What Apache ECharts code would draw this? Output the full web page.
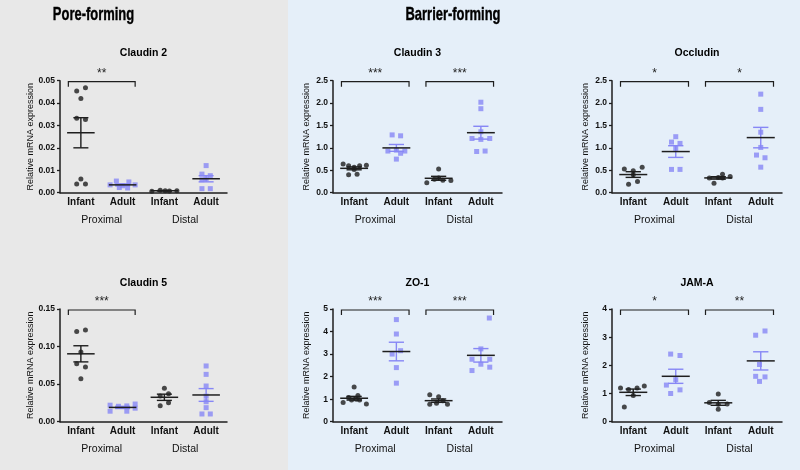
<!DOCTYPE html>
<html lang="en">
<head>
<meta charset="UTF-8">
<title>Tight junction mRNA expression</title>
<script src="https://cdn.jsdelivr.net/npm/echarts@6/dist/echarts.min.js"></script>
<style>
  html, body { margin: 0; padding: 0; }
  #main { width: 800px; height: 470px; }
</style>
</head>
<body>
<div id="main"></div>
<script>
// categories on every panel
var groups = ['Infant', 'Adult', 'Infant', 'Adult'];
var regions = ['Proximal', 'Distal'];
var titles = ['Claudin 2', 'Claudin 3', 'Occludin', 'Claudin 5', 'ZO-1', 'JAM-A'];
var yMax = [0.05, 2.5, 2.5, 0.15, 5, 4];
var yStep = [0.01, 0.5, 0.5, 0.05, 1, 1];
var yDecimals = [2, 1, 1, 2, 0, 0];
// significance marks: [proximal, distal]
var stars = [['**', null], ['***', '***'], ['*', '*'], ['***', null], ['***', '***'], ['*', '**']];

// points: [offset from category centre, value]
var c2InfProx = [[-0.1, 0.0454], [0.11, 0.0469], [0, 0.042], [-0.1, 0.0332], [0.11, 0.0327], [0, 0.0061], [-0.1, 0.0039], [0.11, 0.0039]];
var c2AduProx = [[-0.15, 0.0052], [0.15, 0.0048], [-0.3, 0.0035], [0.3, 0.0035], [0, 0.0031], [0.12, 0.0021], [-0.08, 0.0023]];
var c2InfDist = [[-0.3, 0.0007], [-0.1, 0.0011], [0.02, 0.0009], [0.12, 0.0008], [0.3, 0.0009]];
var c2AduDist = [[0, 0.0121], [-0.1, 0.0083], [0.1, 0.0076], [-0.1, 0.0058], [0, 0.0062], [-0.1, 0.0018], [0.1, 0.0018]];

var c3InfProx = [[-0.26, 0.64], [-0.13, 0.60], [0, 0.57], [0.13, 0.60], [0.29, 0.61], [-0.13, 0.40], [0.07, 0.41], [0, 0.52]];
var c3AduProx = [[-0.1, 1.29], [0.1, 1.27], [-0.2, 0.93], [0, 0.95], [0.2, 0.93], [0.1, 0.88], [0, 0.75]];
var c3InfDist = [[0, 0.53], [-0.28, 0.22], [-0.1, 0.30], [0.1, 0.28], [0.29, 0.27], [0, 0.33]];
var c3AduDist = [[0, 2.02], [0, 1.875], [-0.21, 1.21], [0, 1.19], [0.21, 1.21], [0, 1.36], [-0.1, 0.92], [0.1, 0.93]];

var ocInfProx = [[-0.21, 0.53], [0.21, 0.57], [0, 0.49], [0, 0.40], [-0.11, 0.19], [0.1, 0.25]];
var ocAduProx = [[0, 1.25], [-0.1, 1.13], [0.1, 1.10], [0, 0.99], [-0.1, 0.52], [0.1, 0.52]];
var ocInfDist = [[-0.21, 0.33], [0, 0.34], [0.1, 0.41], [0.28, 0.36], [-0.1, 0.21], [0.1, 0.33]];
var ocAduDist = [[0, 2.20], [0, 1.86], [0, 1.35], [0, 1.01], [-0.1, 0.84], [0.1, 0.78], [0, 0.57]];

var c5InfProx = [[-0.1, 0.120], [0.11, 0.122], [0, 0.0928], [-0.1, 0.0772], [0.11, 0.0728], [0, 0.0573]];
var c5AduProx = [[-0.3, 0.022], [-0.3, 0.014], [-0.1, 0.0205], [0.1, 0.021], [0.1, 0.014], [0.3, 0.0235], [0.3, 0.018]];
var c5InfDist = [[0, 0.0444], [0.1, 0.0373], [-0.1, 0.0342], [-0.1, 0.0213], [0.1, 0.0253]];
var c5AduDist = [[0, 0.0742], [0, 0.063], [0, 0.0475], [0, 0.034], [0, 0.0266], [0, 0.0187], [-0.1, 0.0103], [0.1, 0.0103]];

var zoInfProx = [[0, 1.54], [-0.13, 1.07], [0.09, 1.16], [-0.26, 0.85], [-0.06, 0.96], [0.13, 0.96], [0.29, 0.79], [0.05, 1.0]];
var zoAduProx = [[0, 4.53], [0, 3.89], [0.1, 3.15], [-0.1, 3.0], [0, 2.4], [0, 1.71]];
var zoInfDist = [[-0.21, 1.2], [0, 1.11], [-0.21, 0.77], [0.21, 0.77], [0.1, 0.93], [-0.05, 0.82]];
var zoAduDist = [[0.2, 4.6], [0, 3.23], [-0.21, 2.77], [0, 2.55], [0.21, 2.77], [-0.21, 2.27], [0.21, 2.42]];

var jaInfProx = [[-0.3, 1.20], [-0.11, 1.14], [0.09, 1.20], [0.26, 1.27], [0, 0.93], [-0.21, 0.52]];
var jaAduProx = [[-0.12, 2.40], [0.1, 2.35], [0, 1.49], [-0.22, 1.30], [-0.12, 1.0], [0.1, 1.13]];
var jaInfDist = [[0, 0.98], [-0.21, 0.68], [0.21, 0.63], [0, 0.62], [0, 0.44]];
var jaAduDist = [[-0.12, 3.07], [0.1, 3.22], [-0.03, 2.03], [-0.12, 1.61], [0.1, 1.59], [-0.03, 1.43]];

var panelSets = [
  [c2InfProx, c2AduProx, c2InfDist, c2AduDist],
  [c3InfProx, c3AduProx, c3InfDist, c3AduDist],
  [ocInfProx, ocAduProx, ocInfDist, ocAduDist],
  [c5InfProx, c5AduProx, c5InfDist, c5AduDist],
  [zoInfProx, zoAduProx, zoInfDist, zoAduDist],
  [jaInfProx, jaAduProx, jaInfDist, jaAduDist]
];

// layout
var colLeft = [60, 333, 612];
var colWidth = [167, 169, 170];
var rowTop = [80.7, 309];
var rowHeight = [112, 112.7];
var titleY = [53.5, 283.5];

var FONT = '"Liberation Sans", Arial, Helvetica, sans-serif';
var INK = '#1e1e1e';
var BLUE = '#8787f5';

function mean(a) {
  var s = 0;
  a.forEach(function (p) { s += p[1]; });
  return s / a.length;
}
function sem(a) {
  var m = mean(a), s = 0;
  a.forEach(function (p) { s += (p[1] - m) * (p[1] - m); });
  return Math.sqrt(s / (a.length - 1)) / Math.sqrt(a.length);
}

function renderErr(params, api) {
  var x = api.value(0), m = api.value(1), s = api.value(2);
  var col = api.value(3) === 0 ? INK : BLUE;
  var ml = api.coord([x - 0.33, m]), mr = api.coord([x + 0.33, m]);
  var top = api.coord([x, m + s]), bot = api.coord([x, m - s]);
  var cw = api.size([0.18, 0])[0];
  var ls = { stroke: col, lineWidth: 1.4 };
  return {
    type: 'group',
    children: [
      { type: 'line', shape: { x1: top[0], y1: top[1], x2: bot[0], y2: bot[1] }, style: ls },
      { type: 'line', shape: { x1: top[0] - cw, y1: top[1], x2: top[0] + cw, y2: top[1] }, style: ls },
      { type: 'line', shape: { x1: bot[0] - cw, y1: bot[1], x2: bot[0] + cw, y2: bot[1] }, style: ls },
      { type: 'line', shape: { x1: ml[0], y1: ml[1], x2: mr[0], y2: mr[1] }, style: { stroke: INK, lineWidth: 1.5 } }
    ]
  };
}

function makeBracketRenderer(labels) {
  return function (params, api) {
    var a = api.coord([api.value(0), api.value(2)]);
    var b = api.coord([api.value(1), api.value(2)]);
    var y = a[1] + 1;
    return {
      type: 'group',
      children: [
        { type: 'polyline', shape: { points: [[a[0], y + 5], [a[0], y], [b[0], y], [b[0], y + 5]] },
          style: { stroke: INK, lineWidth: 1.2, fill: null } },
        { type: 'text', x: (a[0] + b[0]) / 2, y: y - 2,
          style: { text: labels[params.dataIndex], font: '12px ' + FONT, fill: INK,
                   textAlign: 'center', textVerticalAlign: 'bottom' } }
      ]
    };
  };
}

var grids = [], xAxes = [], yAxes = [], series = [];
var graphics = [
  { type: 'rect', z: -10, shape: { x: 0, y: 0, width: 288, height: 470 }, style: { fill: '#e8e8e8' } },
  { type: 'rect', z: -10, shape: { x: 288, y: 0, width: 512, height: 470 }, style: { fill: '#e5eff9' } },
  { type: 'text', x: 93.5, y: 15, scaleX: 0.7,
    style: { text: 'Pore-forming', font: 'bold 18.5px ' + FONT, fill: '#000', stroke: '#000', lineWidth: 0.4,
             textAlign: 'center', textVerticalAlign: 'middle' } },
  { type: 'text', x: 453, y: 15, scaleX: 0.7,
    style: { text: 'Barrier-forming', font: 'bold 18.5px ' + FONT, fill: '#000', stroke: '#000', lineWidth: 0.4,
             textAlign: 'center', textVerticalAlign: 'middle' } }
];

for (var p = 0; p < 6; p++) {
  var row = Math.floor(p / 3), col = p % 3;
  grids.push({ left: colLeft[col], top: rowTop[row], width: colWidth[col], height: rowHeight[row] });
  graphics.push({ type: 'text', x: colLeft[col] + colWidth[col] / 2, y: titleY[row],
    style: { text: titles[p], font: 'bold 10.5px ' + FONT, fill: '#000', textAlign: 'center', textVerticalAlign: 'middle' } });

  xAxes.push({
    type: 'category', gridIndex: p, position: 'bottom', data: groups, boundaryGap: true,
    axisLine: { onZero: false, lineStyle: { color: INK, width: 1.5 } },
    axisTick: { alignWithLabel: true, length: 3, lineStyle: { color: INK, width: 1.3 } },
    axisLabel: { interval: 0, margin: 5, color: '#111', fontWeight: 'bold', fontSize: 10, fontFamily: FONT }
  });
  xAxes.push({
    type: 'category', gridIndex: p, position: 'bottom', data: regions, boundaryGap: true,
    axisLine: { show: false, onZero: false }, axisTick: { show: false },
    axisLabel: { interval: 0, margin: 22, color: '#111', fontSize: 10.5, fontFamily: FONT }
  });
  xAxes.push({ type: 'value', gridIndex: p, min: -0.5, max: 3.5, show: false, axisLine: { onZero: false } });

  (function (dec) {
    yAxes.push({
      type: 'value', gridIndex: p, position: 'left', min: 0, max: yMax[p], interval: yStep[p],
      axisLine: { show: true, onZero: false, lineStyle: { color: INK, width: 1.5 } },
      axisTick: { show: true, length: 3, lineStyle: { color: INK, width: 1.3 } },
      splitLine: { show: false },
      axisLabel: { margin: 5, color: '#111', fontWeight: 'bold', fontSize: 8.5, fontFamily: FONT,
                   formatter: function (v) { return v.toFixed(dec); } },
      name: 'Relative mRNA expression', nameLocation: 'middle', nameGap: 22,
      nameTextStyle: { fontSize: 9, color: '#111', fontFamily: FONT }
    });
  })(yDecimals[p]);

  var sets = panelSets[p];
  var xi = 3 * p + 2;
  var infPts = [], aduPts = [], errs = [];
  sets.forEach(function (set, g) {
    set.forEach(function (pt) {
      (g % 2 === 0 ? infPts : aduPts).push([g + pt[0], pt[1]]);
    });
    errs.push([g, mean(set), sem(set), g % 2]);
  });

  series.push({ type: 'scatter', xAxisIndex: xi, yAxisIndex: p, data: infPts,
    symbol: 'circle', symbolSize: 5, itemStyle: { color: INK } });
  series.push({ type: 'scatter', xAxisIndex: xi, yAxisIndex: p, data: aduPts,
    symbol: 'rect', symbolSize: 5, itemStyle: { color: BLUE } });
  series.push({ type: 'custom', xAxisIndex: xi, yAxisIndex: p, data: errs,
    encode: { x: 0, y: 1 }, renderItem: renderErr, clip: false, z: 3 });

  var br = [], brLabels = [];
  if (stars[p][0]) { br.push([-0.3, 1.3, yMax[p]]); brLabels.push(stars[p][0]); }
  if (stars[p][1]) { br.push([1.7, 3.3, yMax[p]]); brLabels.push(stars[p][1]); }
  series.push({ type: 'custom', xAxisIndex: xi, yAxisIndex: p, data: br,
    encode: { x: [0, 1], y: 2 }, renderItem: makeBracketRenderer(brLabels), clip: false, z: 3 });
}

var chart = echarts.init(document.getElementById('main'));
chart.setOption({
  animation: false,
  textStyle: { fontFamily: FONT },
  grid: grids,
  xAxis: xAxes,
  yAxis: yAxes,
  graphic: graphics,
  series: series
});
</script>
</body>
</html>
